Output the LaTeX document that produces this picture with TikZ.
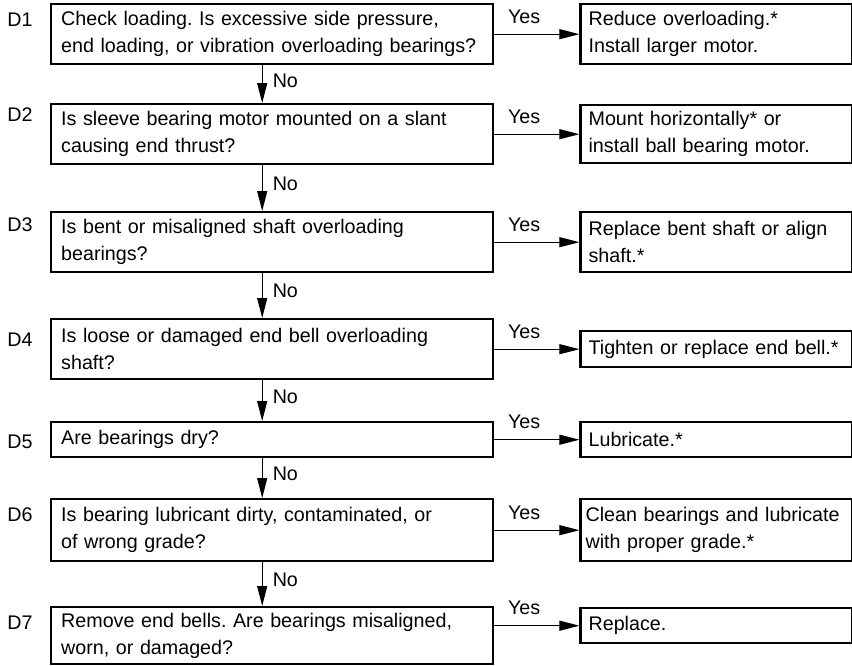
\documentclass[tikz,border=0pt]{standalone}
\usepackage{fontspec}
\setmainfont{Liberation Sans}
\usetikzlibrary{arrows.meta,positioning}

\newcommand{\chartfont}{\fontsize{19.7}{27}\selectfont\frenchspacing}

\tikzset{
	qbox/.style={draw, line width=2.4pt, anchor=north west, text width=422pt,
		inner xsep=10pt, minimum height=60pt, align=left, font=\chartfont},
	abox/.style={draw, line width=2.4pt, text width=256pt, inner xsep=8pt,
		minimum height=60pt, align=left, font=\chartfont},
	dlabel/.style={inner sep=0pt, font=\chartfont},
	flow/.style={line width=1.1pt, -{Triangle[length=20pt,width=10pt]}},
	yeslbl/.style={pos=0.35, anchor=south, inner sep=0pt, yshift=10pt, font=\chartfont},
	nolbl/.style={pos=0.4, anchor=west, inner sep=0pt, xshift=10pt, font=\chartfont},
}

\begin{document}
\begin{tikzpicture}[x=1pt,y=1pt]
	\useasboundingbox (0,0) rectangle (852,-665);

	% questions
	\node[qbox] (q1) at (50,-3) {Check loading. Is excessive side pressure,\\ end loading, or vibration overloading bearings?};
	\node[qbox] (q2) at (50,-103) {Is sleeve bearing motor mounted on a slant\\ causing end thrust?};
	\node[qbox] (q3) at (50,-211) {Is bent or misaligned shaft overloading\\ bearings?};
	\node[qbox] (q4) at (50,-318) {Is loose or damaged end bell overloading\\ shaft?};
	\node[qbox, minimum height=35pt] (q5) at (50,-421) {Are bearings dry?};
	\node[qbox, minimum height=62pt] (q6) at (50,-498) {Is bearing lubricant dirty, contaminated, or\\ of wrong grade?};
	\node[qbox, minimum height=57pt] (q7) at (50,-606) {Remove end bells. Are bearings misaligned,\\ worn, or damaged?};

	% step labels
	\node[dlabel] (d1) at (20,-20) {D1};
	\node[dlabel] (d2) at (20,-115) {D2};
	\node[dlabel] (d3) at (20,-225) {D3};
	\node[dlabel] (d4) at (20,-340) {D4};
	\node[dlabel] (d5) at (20,-442) {D5};
	\node[dlabel] (d6) at (20,-515) {D6};
	\node[dlabel] (d7) at (20,-623) {D7};

	% remedies
	\node[abox, right=85pt of q1] (a1) {Reduce overloading.*\\ Install larger motor.};
	\node[abox, right=85pt of q2, minimum height=58pt] (a2) {Mount horizontally* or\\ install ball bearing motor.};
	\node[abox, right=85pt of q3] (a3) {Replace bent shaft or align\\ shaft.*};
	\node[abox, right=85pt of q4, minimum height=36pt] (a4) {Tighten or replace end bell.*};
	\node[abox, right=85pt of q5, minimum height=35pt] (a5) {Lubricate.*};
	\node[abox, right=85pt of q6, minimum height=62pt, inner xsep=5pt, text width=262pt] (a6) {Clean bearings and lubricate\\ with proper grade.*};
	\node[abox, right=85pt of q7, minimum height=35pt, yshift=10pt] (a7) {Replace.};

	\foreach \i in {1, ..., 7}{
			\draw[flow] (q\i.east |- a\i.west) -- node[yeslbl] {Yes} (a\i.west);
		}

	\foreach \i/\j in {1/2, 2/3, 3/4, 4/5, 5/6, 6/7}{
			\draw[flow] ([xshift=-10pt]q\i.south) -- node[nolbl] {No} ([xshift=-10pt]q\j.north);
		}
\end{tikzpicture}
\end{document}
